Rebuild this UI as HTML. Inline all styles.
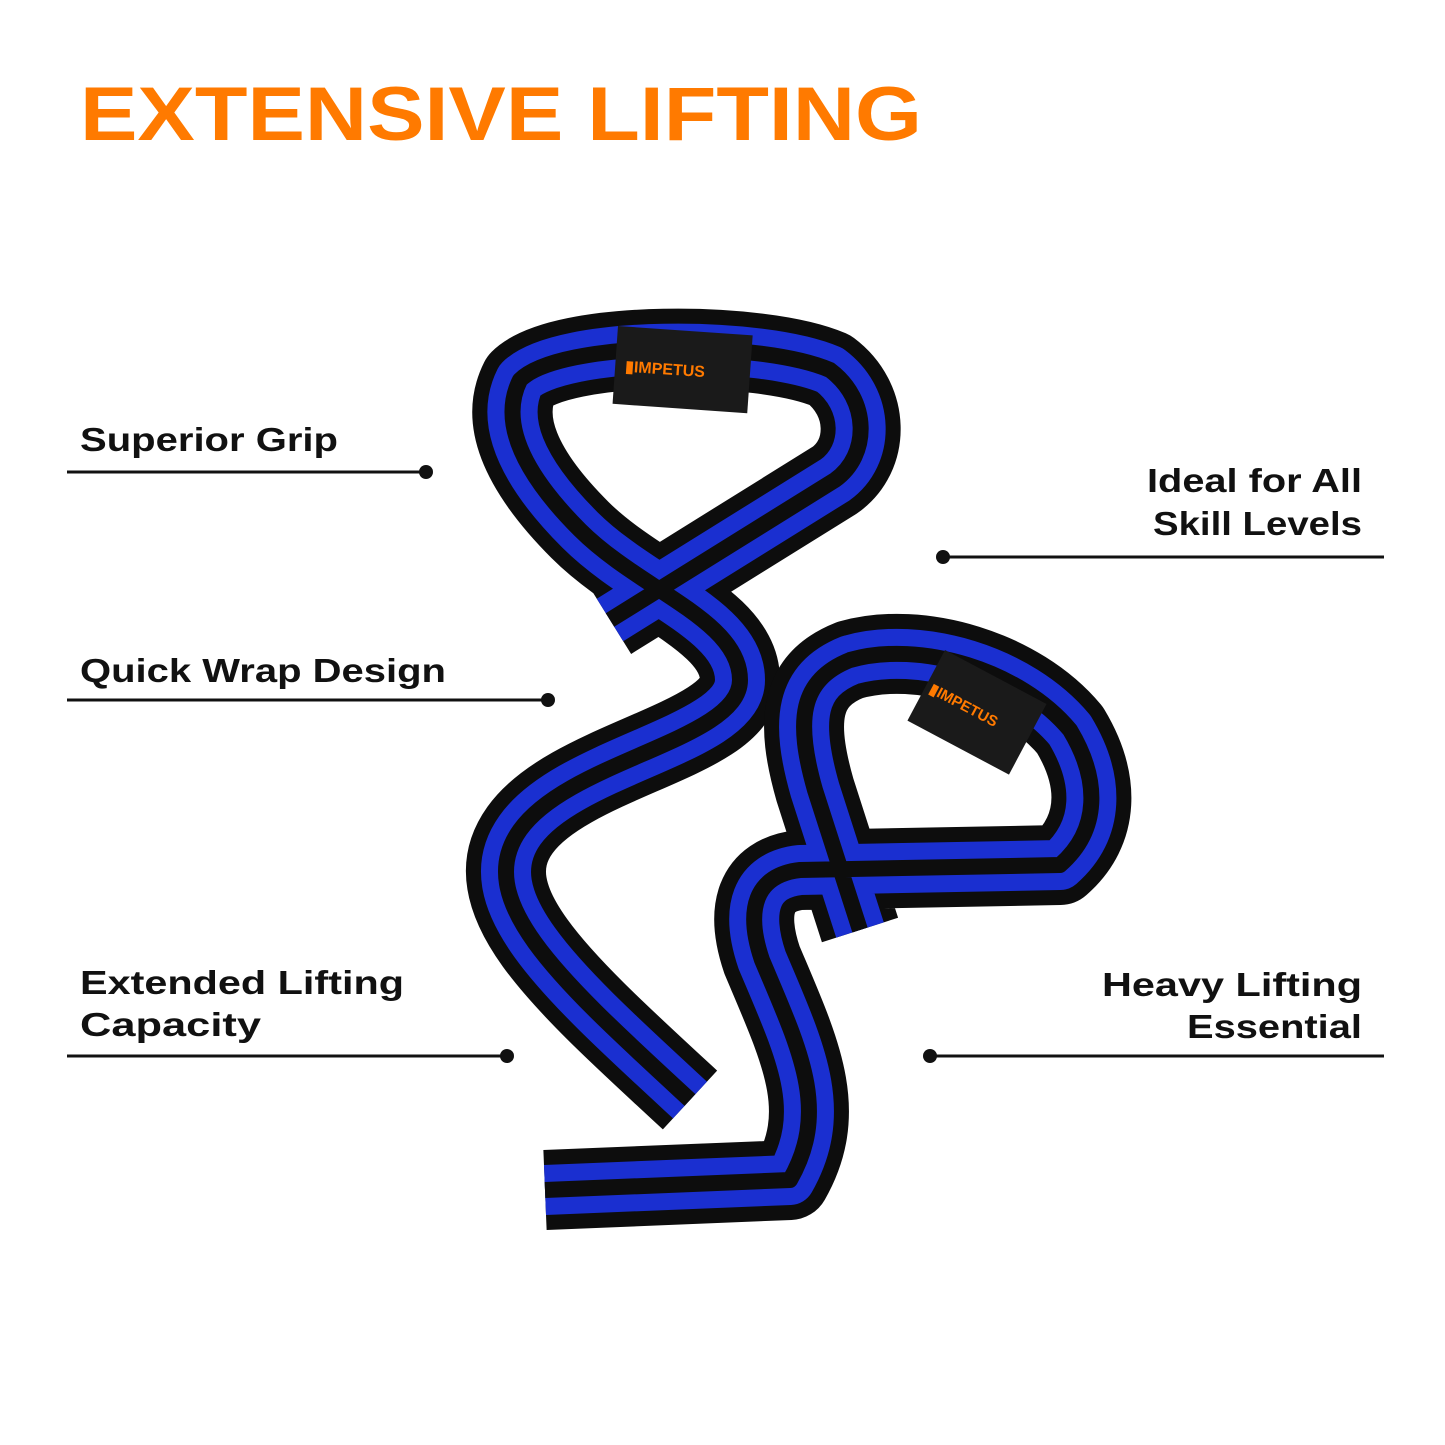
<!DOCTYPE html>
<html><head><meta charset="utf-8"><style>
html,body{margin:0;padding:0;background:#fff;}
svg{display:block}
</style></head><body>
<svg width="1445" height="1445" viewBox="0 0 1445 1445" xmlns="http://www.w3.org/2000/svg">
<rect width="1445" height="1445" fill="#fff"/>
<text x="80" y="140" font-family="Liberation Sans, sans-serif" font-weight="bold" font-size="76" fill="#FF7A00" textLength="842" lengthAdjust="spacingAndGlyphs">EXTENSIVE LIFTING</text>

<g font-family="Liberation Sans, sans-serif" font-weight="bold" font-size="33" fill="#111" lengthAdjust="spacingAndGlyphs">
<text x="80" y="451" textLength="258" lengthAdjust="spacingAndGlyphs">Superior Grip</text>
<text x="80" y="682" textLength="366" lengthAdjust="spacingAndGlyphs">Quick Wrap Design</text>
<text x="80" y="994" textLength="324" lengthAdjust="spacingAndGlyphs">Extended Lifting</text>
<text x="80" y="1036" textLength="181" lengthAdjust="spacingAndGlyphs">Capacity</text>
<text x="1147" y="492" textLength="215" lengthAdjust="spacingAndGlyphs">Ideal for All</text>
<text x="1153" y="535" textLength="209" lengthAdjust="spacingAndGlyphs">Skill Levels</text>
<text x="1102" y="996" textLength="260" lengthAdjust="spacingAndGlyphs">Heavy Lifting</text>
<text x="1187" y="1038" textLength="175" lengthAdjust="spacingAndGlyphs">Essential</text>
</g>
<g stroke="#111" stroke-width="3">
<line x1="67" y1="472" x2="426" y2="472"/>
<line x1="67" y1="700" x2="548" y2="700"/>
<line x1="67" y1="1056" x2="507" y2="1056"/>
<line x1="943" y1="557" x2="1384" y2="557"/>
<line x1="930" y1="1056" x2="1384" y2="1056"/>
</g>
<g fill="#111">
<circle cx="426" cy="472" r="7"/><circle cx="548" cy="700" r="7"/><circle cx="507" cy="1056" r="7"/>
<circle cx="943" cy="557" r="7"/><circle cx="930" cy="1056" r="7"/>
</g>

<defs>
<path id="s1" d="M 690 1100 C 560 980 470 900 520 830 C 570 760 740 740 740 680 C 740 620 640 590 580 530 C 520 470 500 420 520 380 C 560 340 760 340 830 370 C 870 400 870 455 835 480 L 610 620"/>
<path id="s2" d="M 860 930 L 815 790 C 795 720 800 680 850 660 C 920 640 1020 670 1070 730 C 1100 780 1100 830 1060 865 L 800 870 C 755 875 745 910 762 960 C 800 1050 830 1110 790 1180 L 545 1190"/>
</defs>
<g fill="none" stroke-linecap="butt" stroke-linejoin="round">
<use href="#s1" stroke="#0d0d0d" stroke-width="80"/>
<use href="#s1" stroke="#1a2fd0" stroke-width="50"/>
<use href="#s1" stroke="#0d0d0d" stroke-width="16"/>
<use href="#s2" stroke="#0d0d0d" stroke-width="80"/>
<use href="#s2" stroke="#1a2fd0" stroke-width="50"/>
<use href="#s2" stroke="#0d0d0d" stroke-width="16"/>
</g>
<g transform="translate(618,326) rotate(4)">
<rect width="135" height="78" fill="#1a1a1a"/>
<text x="10" y="45" font-family="Liberation Sans, sans-serif" font-weight="bold" font-size="16" fill="#FF7A00">▮IMPETUS</text>
</g>
<g transform="translate(945,650) rotate(28)">
<rect width="115" height="80" fill="#1a1a1a"/>
<text x="5" y="45" font-family="Liberation Sans, sans-serif" font-weight="bold" font-size="15" fill="#FF7A00">▮IMPETUS</text>
</g>
</svg>
</body></html>
